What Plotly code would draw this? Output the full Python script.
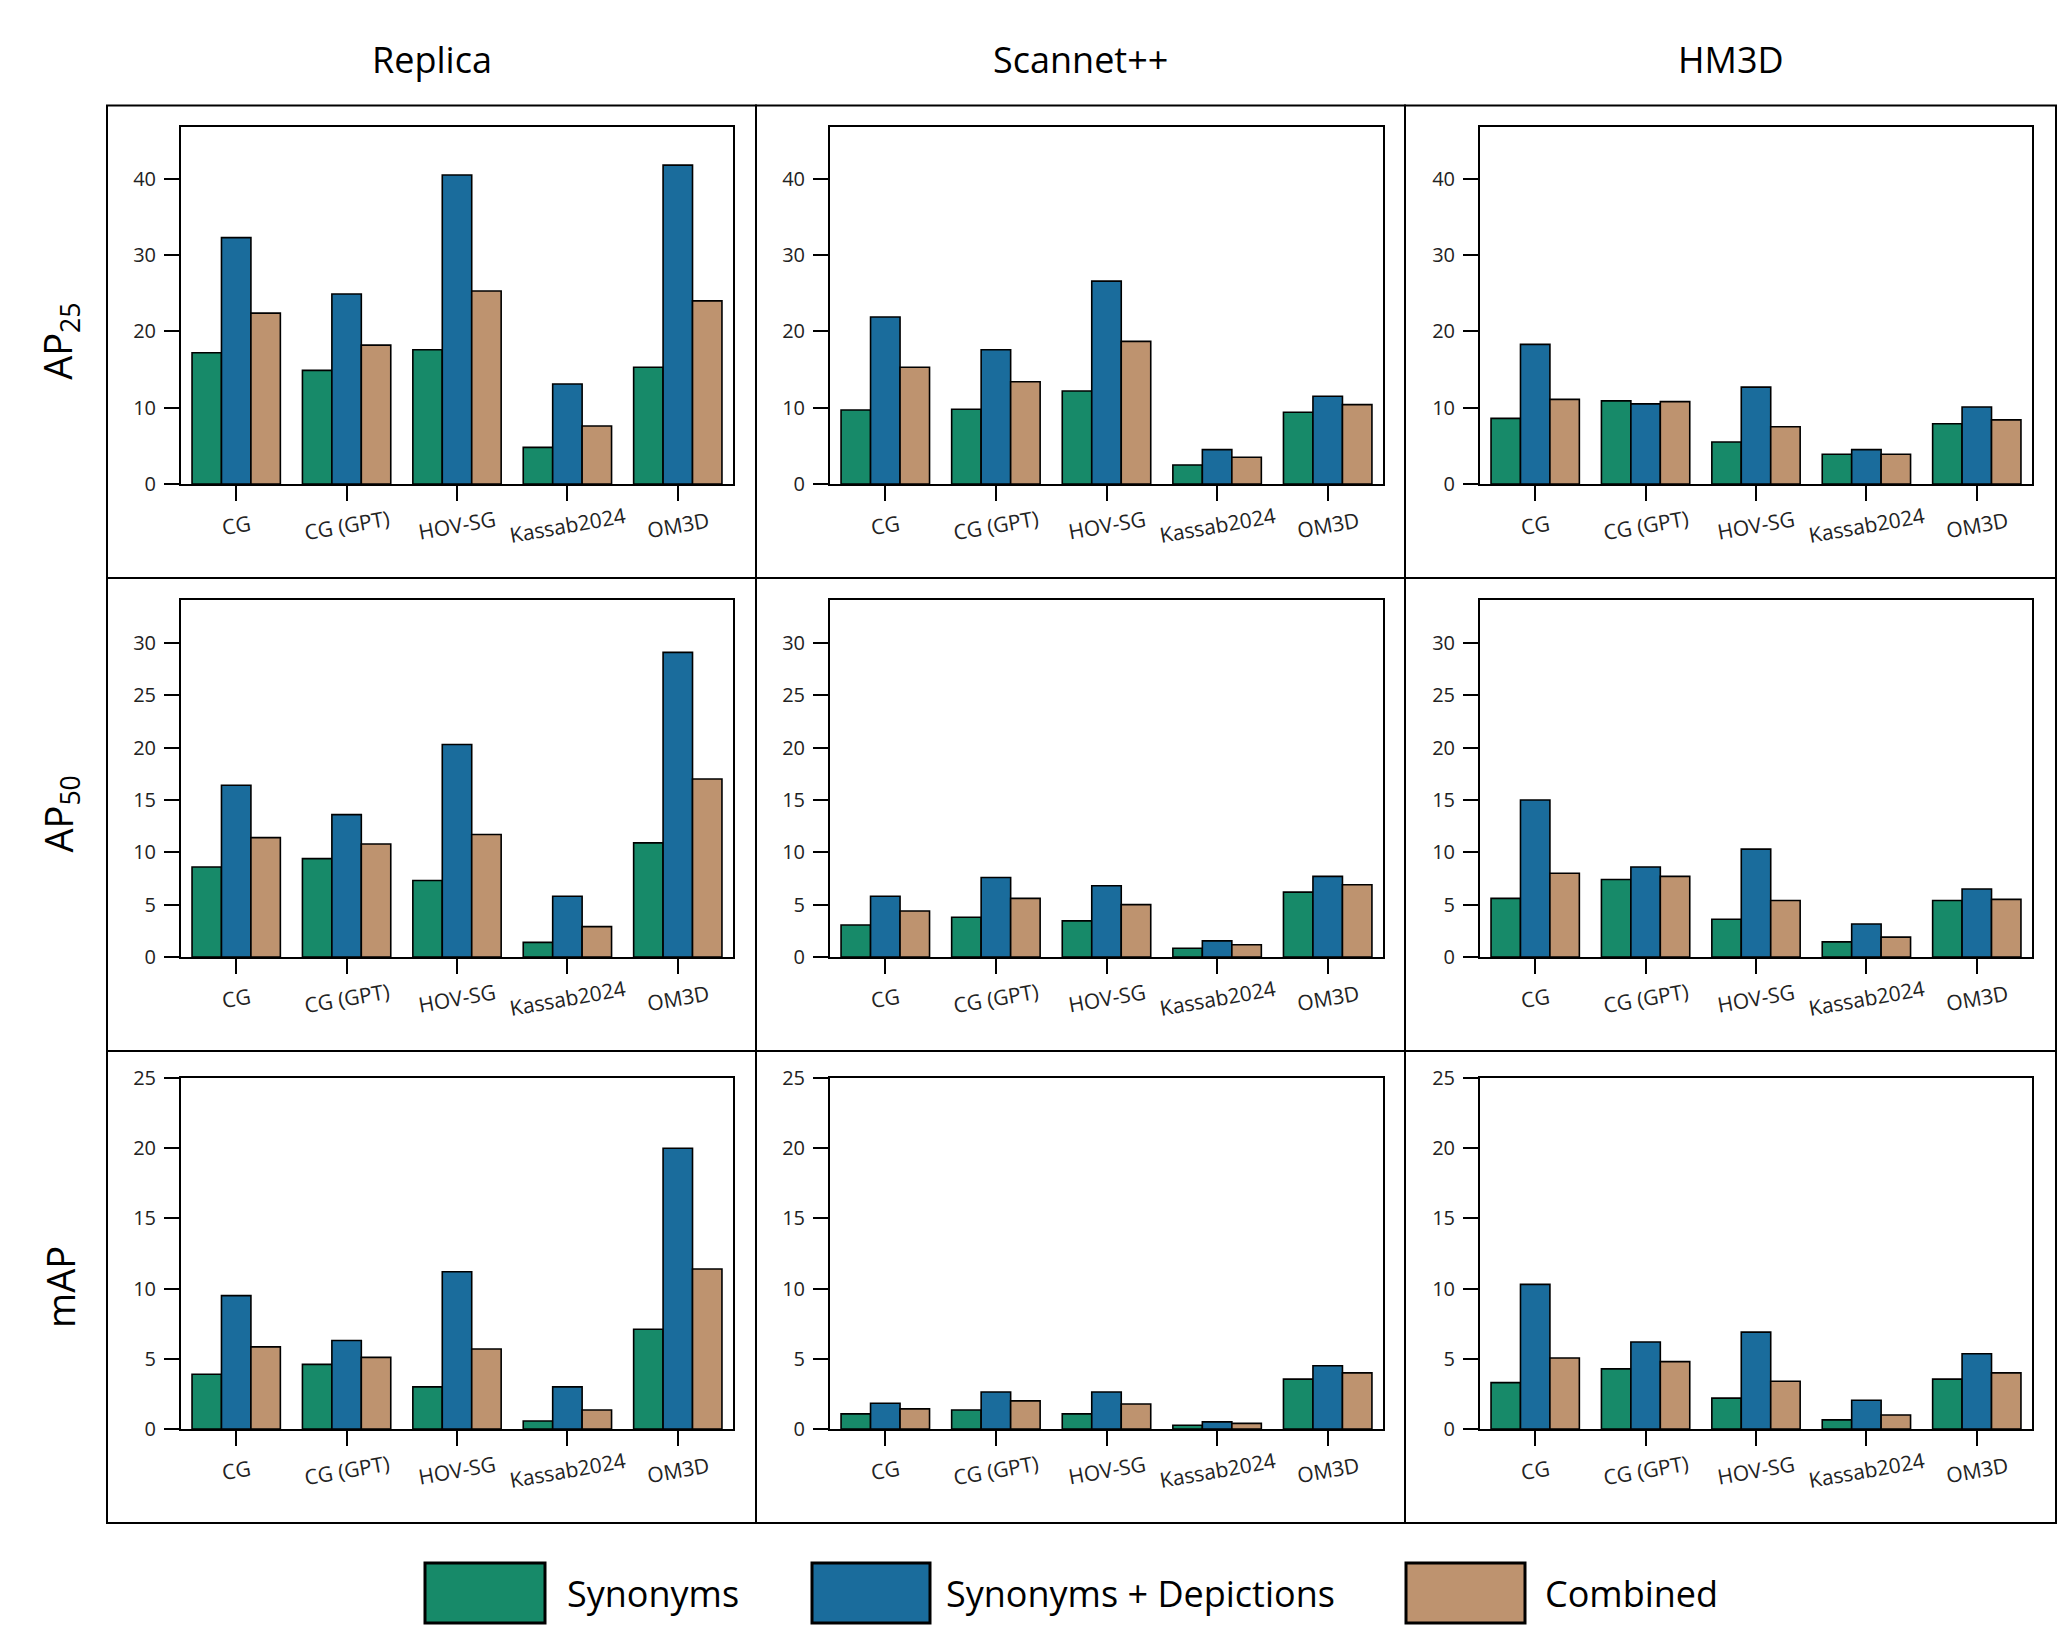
import plotly.graph_objects as go
from plotly.subplots import make_subplots

# ---------------- data ----------------
methods = ["CG", "CG (GPT)", "HOV-SG", "Kassab2024", "OM3D"]
datasets = ["Replica", "Scannet++", "HM3D"]
metric_labels = ["AP<sub>25</sub>", "AP<sub>50</sub>", "mAP"]
series_names = ["Synonyms", "Synonyms + Depictions", "Combined"]
series_colors = ["#178A69", "#1A6C9C", "#BE936F"]

# AP25
ap25_replica_syn = [17.2, 14.9, 17.6, 4.8, 15.3]
ap25_replica_dep = [32.3, 24.9, 40.5, 13.1, 41.8]
ap25_replica_comb = [22.4, 18.2, 25.3, 7.6, 24.0]
ap25_scannet_syn = [9.7, 9.8, 12.2, 2.5, 9.4]
ap25_scannet_dep = [21.9, 17.6, 26.6, 4.5, 11.5]
ap25_scannet_comb = [15.3, 13.4, 18.7, 3.5, 10.4]
ap25_hm3d_syn = [8.6, 10.9, 5.5, 3.9, 7.9]
ap25_hm3d_dep = [18.3, 10.5, 12.7, 4.5, 10.1]
ap25_hm3d_comb = [11.1, 10.8, 7.5, 3.9, 8.4]

# AP50
ap50_replica_syn = [8.6, 9.4, 7.3, 1.4, 10.9]
ap50_replica_dep = [16.4, 13.6, 20.3, 5.8, 29.1]
ap50_replica_comb = [11.4, 10.8, 11.7, 2.9, 17.0]
ap50_scannet_syn = [3.05, 3.8, 3.45, 0.84, 6.2]
ap50_scannet_dep = [5.8, 7.6, 6.8, 1.54, 7.7]
ap50_scannet_comb = [4.4, 5.6, 5.0, 1.17, 6.9]
ap50_hm3d_syn = [5.6, 7.4, 3.6, 1.44, 5.4]
ap50_hm3d_dep = [15.0, 8.6, 10.3, 3.15, 6.5]
ap50_hm3d_comb = [8.0, 7.7, 5.4, 1.9, 5.5]

# mAP
map_replica_syn = [3.9, 4.6, 3.0, 0.57, 7.1]
map_replica_dep = [9.5, 6.3, 11.2, 3.0, 20.0]
map_replica_comb = [5.85, 5.1, 5.7, 1.35, 11.4]
map_scannet_syn = [1.08, 1.35, 1.08, 0.27, 3.55]
map_scannet_dep = [1.83, 2.64, 2.64, 0.51, 4.5]
map_scannet_comb = [1.43, 2.0, 1.78, 0.4, 4.0]
map_hm3d_syn = [3.3, 4.28, 2.2, 0.65, 3.55]
map_hm3d_dep = [10.3, 6.2, 6.9, 2.05, 5.36]
map_hm3d_comb = [5.06, 4.8, 3.4, 1.0, 4.0]

y_dticks = [10, 5, 5]

grid = [
    [[ap25_replica_syn, ap25_replica_dep, ap25_replica_comb],
     [ap25_scannet_syn, ap25_scannet_dep, ap25_scannet_comb],
     [ap25_hm3d_syn, ap25_hm3d_dep, ap25_hm3d_comb]],
    [[ap50_replica_syn, ap50_replica_dep, ap50_replica_comb],
     [ap50_scannet_syn, ap50_scannet_dep, ap50_scannet_comb],
     [ap50_hm3d_syn, ap50_hm3d_dep, ap50_hm3d_comb]],
    [[map_replica_syn, map_replica_dep, map_replica_comb],
     [map_scannet_syn, map_scannet_dep, map_scannet_comb],
     [map_hm3d_syn, map_hm3d_dep, map_hm3d_comb]],
]

# ---------------- layout geometry (pixels) ----------------
W, H = 2070, 1641
inner_x = [(181, 733), (830, 1383), (1480, 2032)]
inner_y = [(127, 484), (600, 957), (1078, 1429)]
outer_x = [107, 756, 1405, 2056]
outer_y = [105.6, 578, 1051, 1523]
FONT = "Open Sans"

def px_x(v):
    return v / W

def px_y(v):
    return 1 - v / H

fig = make_subplots(rows=3, cols=3)

for r in range(3):
    row_max = max(max(max(s) for s in grid[r][c]) for c in range(3))
    for c in range(3):
        for k in range(3):
            fig.add_trace(
                go.Bar(
                    x=methods,
                    y=grid[r][c][k],
                    name=series_names[k],
                    marker=dict(color=series_colors[k],
                                line=dict(color="black", width=1.6)),
                    showlegend=False,
                ),
                row=r + 1, col=c + 1,
            )
        idx = r * 3 + c + 1
        xname = "xaxis" if idx == 1 else f"xaxis{idx}"
        yname = "yaxis" if idx == 1 else f"yaxis{idx}"
        fig.layout[xname].update(
            domain=[px_x(inner_x[c][0]), px_x(inner_x[c][1])],
            range=[-0.5, 4.5],
            showline=True, linewidth=2, linecolor="black", mirror=True,
            ticks="outside", ticklen=15, tickwidth=2, tickcolor="black",
            showticklabels=False, showgrid=False, zeroline=False,
            automargin=False,
        )
        fig.layout[yname].update(
            domain=[px_y(inner_y[r][1]), px_y(inner_y[r][0])],
            range=[0, row_max + 5],
            dtick=y_dticks[r], tick0=0,
            showline=True, linewidth=2, linecolor="black", mirror=True,
            ticks="outside", ticklen=15, tickwidth=2, tickcolor="black",
            tickfont=dict(family=FONT, size=20, color="#222"),
            ticklabelstandoff=4,
            showgrid=False, zeroline=False,
            automargin=False,
        )
        # category labels, rotated and centred under each tick
        xref = "x" if idx == 1 else f"x{idx}"
        for m in methods:
            fig.add_annotation(
                x=m, xref=xref,
                y=px_y(inner_y[r][1] + 41), yref="paper",
                text=m, showarrow=False, textangle=-10,
                xanchor="center", yanchor="middle",
                font=dict(family=FONT, size=21, color="#222"),
            )

fig.update_layout(barmode="group", bargap=0.2, bargroupgap=0)

shapes = []
# outer cell boxes
for r in range(3):
    for c in range(3):
        shapes.append(dict(
            type="rect", xref="paper", yref="paper",
            x0=px_x(outer_x[c]), x1=px_x(outer_x[c + 1]),
            y0=px_y(outer_y[r + 1]), y1=px_y(outer_y[r]),
            line=dict(color="black", width=2), fillcolor="rgba(0,0,0,0)",
        ))

# column titles
for c, name in enumerate(datasets):
    fig.add_annotation(
        x=px_x((outer_x[c] + outer_x[c + 1]) / 2), xref="paper",
        y=px_y(59), yref="paper", text=name, showarrow=False,
        xanchor="center", yanchor="middle",
        font=dict(family=FONT, size=36, color="black"),
    )

# row titles
for r, lab in enumerate(metric_labels):
    fig.add_annotation(
        x=px_x(60), xref="paper",
        y=px_y((outer_y[r] + outer_y[r + 1]) / 2), yref="paper",
        text=lab, showarrow=False, textangle=-90,
        xanchor="center", yanchor="middle",
        font=dict(family=FONT, size=38, color="black"),
    )

# legend (manual patches)
legend_patch_x = [(425, 545), (812, 930), (1406, 1525)]
legend_text_x = [565, 944, 1543]
for k in range(3):
    shapes.append(dict(
        type="rect", xref="paper", yref="paper",
        x0=px_x(legend_patch_x[k][0]), x1=px_x(legend_patch_x[k][1]),
        y0=px_y(1623), y1=px_y(1563),
        line=dict(color="black", width=3), fillcolor=series_colors[k],
    ))
    fig.add_annotation(
        x=px_x(legend_text_x[k]), xref="paper",
        y=px_y(1593), yref="paper", text=series_names[k], showarrow=False,
        xanchor="left", yanchor="middle",
        font=dict(family=FONT, size=36, color="black"),
    )

fig.update_layout(
    shapes=shapes,
    width=W, height=H,
    autosize=False,
    margin=dict(l=0, r=0, t=0, b=0, pad=0),
    paper_bgcolor="white", plot_bgcolor="white",
    showlegend=False,
    font=dict(family=FONT),
)

fig.write_html(
    "out.html",
    config={"responsive": False, "displayModeBar": False},
    post_script="document.body.style.margin='0';document.body.style.overflow='hidden';",
)
